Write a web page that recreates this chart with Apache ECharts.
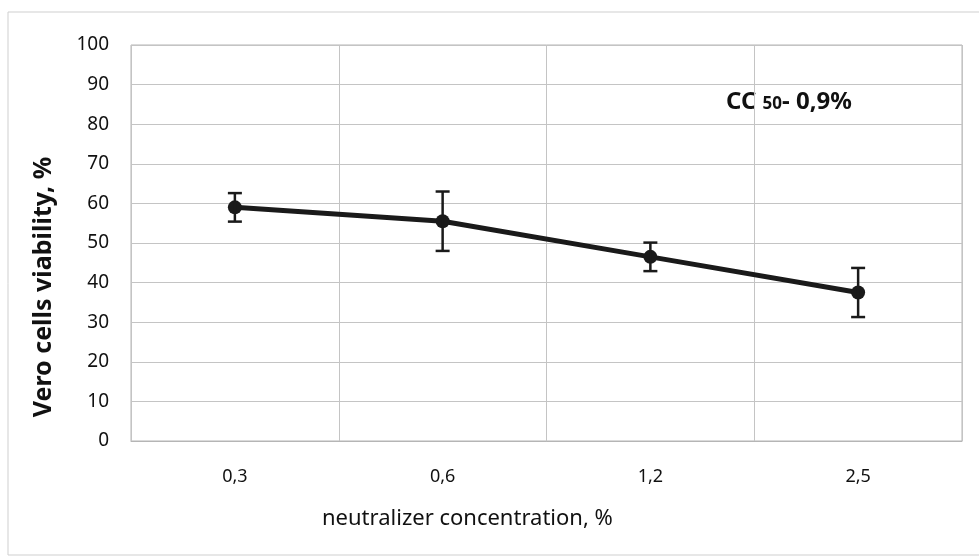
<!DOCTYPE html>
<html>
<head>
<meta charset="utf-8">
<script src="https://cdn.jsdelivr.net/npm/echarts@6/dist/echarts.min.js"></script>
<style>
  html, body { margin: 0; padding: 0; background: #fff; }
  #chart { width: 979px; height: 558px; }
</style>
</head>
<body>
<div id="chart"></div>
<script>
// data
var categories = ['0,3', '0,6', '1,2', '2,5'];
var viability = [59, 55.5, 46.5, 37.5];
var errors = [3.6, 7.5, 3.6, 6.2];
var yTicks = [0, 10, 20, 30, 40, 50, 60, 70, 80, 90, 100];

var errData = [];
for (var i = 0; i < viability.length; i++) {
    errData.push([i, viability[i] - errors[i], viability[i] + errors[i]]);
}

function errorBar(params, api) {
    var x = api.value(0);
    var lo = api.coord([x, api.value(1)]);
    var hi = api.coord([x, api.value(2)]);
    var w = 7;
    var st = { stroke: '#1a1a1a', lineWidth: 2.5 };
    return {
        type: 'group',
        children: [
            { type: 'line', shape: { x1: hi[0], y1: hi[1], x2: lo[0], y2: lo[1] }, style: st },
            { type: 'line', shape: { x1: hi[0] - w, y1: hi[1], x2: hi[0] + w, y2: hi[1] }, style: st },
            { type: 'line', shape: { x1: lo[0] - w, y1: lo[1], x2: lo[0] + w, y2: lo[1] }, style: st }
        ]
    };
}

var myChart = echarts.init(document.getElementById('chart'));

var option = {
    backgroundColor: '#fff',
    animation: false,
    textStyle: { fontFamily: 'Noto Sans' },
    grid: {
        left: 131,
        right: 17,
        top: 45,
        bottom: 117,
        show: true,
        borderColor: '#b5b5b5',
        borderWidth: 1
    },
    xAxis: {
        type: 'category',
        data: categories,
        boundaryGap: true,
        axisLine: { lineStyle: { color: '#b5b5b5' } },
        axisTick: { show: false },
        axisLabel: { color: '#111', fontSize: 18, margin: 27 },
        splitLine: { show: true, lineStyle: { color: '#c4c4c4', width: 1 } }
    },
    yAxis: {
        type: 'value',
        min: yTicks[0],
        max: yTicks[yTicks.length - 1],
        interval: 10,
        axisLine: { show: false },
        axisTick: { show: false },
        axisLabel: { color: '#111', fontSize: 19, margin: 22 },
        splitLine: { lineStyle: { color: '#c4c4c4', width: 1 } }
    },
    graphic: [
        {
            type: 'rect',
            silent: true,
            shape: { x: 8, y: 12, width: 990, height: 543 },
            style: { fill: 'none', stroke: '#cfcfcf', lineWidth: 1 }
        },
        {
            type: 'text',
            left: 322,
            top: 508,
            style: {
                text: 'neutralizer concentration, %',
                font: '22px "Noto Sans"',
                fill: '#111'
            }
        },
        {
            type: 'text',
            x: 44,
            y: 287,
            rotation: Math.PI / 2,
            style: {
                text: 'Vero cells viability, %',
                font: 'bold 25px "Noto Sans"',
                fill: '#111',
                align: 'center',
                verticalAlign: 'middle'
            }
        },
        {
            type: 'text',
            left: 726,
            top: 90,
            style: {
                rich: {
                    a: { font: 'bold 24px "Noto Sans"', fill: '#111' },
                    s: { font: 'bold 17px "Noto Sans"', fill: '#111', padding: [4, 0, 0, 0] }
                },
                text: '{a|CC }{s|50}{a|- 0,9%}'
            }
        }
    ],
    series: [
        {
            name: 'viability',
            type: 'line',
            data: viability,
            symbol: 'circle',
            symbolSize: 14,
            lineStyle: { color: '#1a1a1a', width: 5 },
            itemStyle: { color: '#1a1a1a' },
            z: 3
        },
        {
            name: 'error',
            type: 'custom',
            renderItem: errorBar,
            data: errData,
            z: 4
        }
    ]
};
myChart.setOption(option);
</script>
</body>
</html>
